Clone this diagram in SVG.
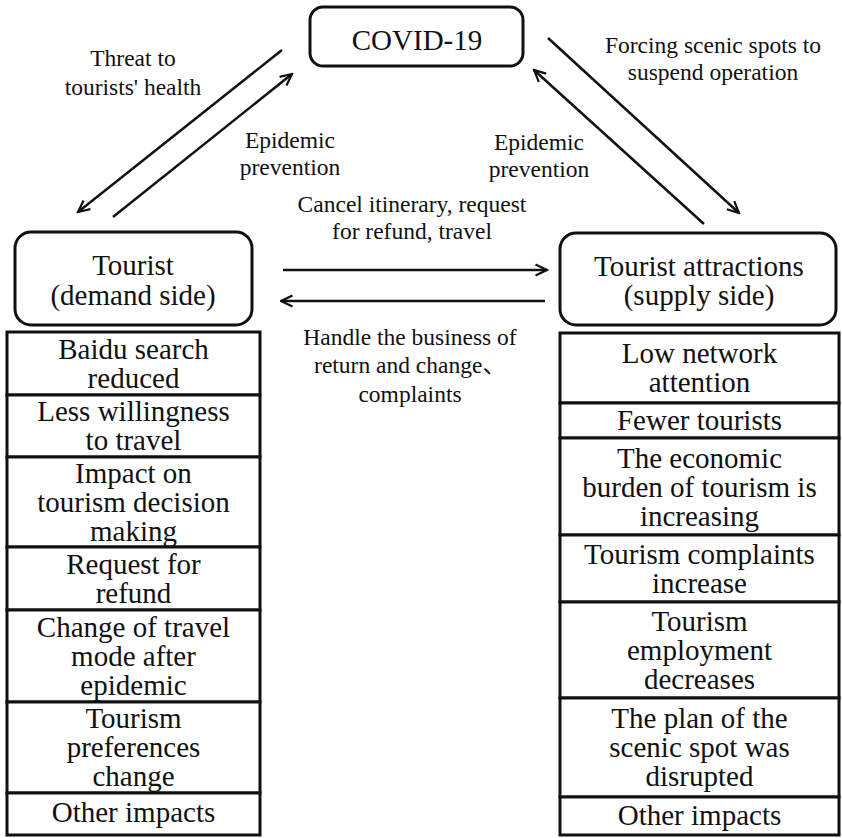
<svg xmlns="http://www.w3.org/2000/svg" width="842" height="838" viewBox="0 0 842 838">
<defs>
<marker id="arr" viewBox="0 0 14 14" refX="12.5" refY="7" markerWidth="14" markerHeight="14" markerUnits="userSpaceOnUse" orient="auto">
<path d="M1,1.5 L12.5,7 L1,12.5" fill="none" stroke="#111" stroke-width="2.2"/>
</marker>
<style>
.n{font-family:'Liberation Serif','Noto Sans CJK SC',serif;font-size:29px;fill:#111;text-anchor:middle}
.l{font-family:'Liberation Serif','Noto Sans CJK SC',serif;font-size:23.5px;fill:#111;text-anchor:middle}
.box{fill:#fff;stroke:#111;stroke-width:3}
.cell{fill:#fff;stroke:#111;stroke-width:3}
.c{fill:none;stroke:#111;stroke-width:2.5;marker-end:url(#arr)}
</style>
</defs>
<rect width="842" height="838" fill="#fff"/>

<g id="connectors">
<line class="c" x1="282" y1="50" x2="78" y2="212"/>
<line class="c" x1="113" y1="217" x2="292" y2="74"/>
<line class="c" x1="548" y1="38" x2="739" y2="213"/>
<line class="c" x1="704" y1="224" x2="534" y2="70"/>
<line class="c" x1="283" y1="270" x2="547" y2="270"/>
<line class="c" x1="545" y1="301" x2="281" y2="301"/>
</g>

<g id="edge-labels">
<text class="l" x="133" y="66">Threat to</text>
<text class="l" x="133" y="95">tourists' health</text>
<text class="l" x="290" y="148">Epidemic</text>
<text class="l" x="290" y="175">prevention</text>
<text class="l" x="539" y="150">Epidemic</text>
<text class="l" x="539" y="177">prevention</text>
<text class="l" x="713" y="53">Forcing scenic spots to</text>
<text class="l" x="713" y="80">suspend operation</text>
<text class="l" x="412" y="212">Cancel itinerary, request</text>
<text class="l" x="412" y="239">for refund, travel</text>
<text class="l" x="410" y="345">Handle the business of</text>
<text class="l" x="410" y="373">return and change、</text>
<text class="l" x="410" y="402">complaints</text>
</g>

<g id="covid">
<rect class="box" x="310" y="7" width="213" height="59" rx="13"/>
<text class="n" x="417" y="50">COVID-19</text>
</g>

<g id="tourist">
<rect class="box" x="15" y="232" width="237" height="93" rx="16"/>
<text class="n" x="133" y="275">Tourist</text>
<text class="n" x="133" y="305">(demand side)</text>
</g>

<g id="attractions">
<rect class="box" x="560" y="233" width="276" height="92" rx="16"/>
<text class="n" x="699" y="276">Tourist attractions</text>
<text class="n" x="699" y="305">(supply side)</text>
</g>

<g id="demand-impacts">
<rect class="cell" x="7" y="332" width="253" height="63"/>
<text class="n" x="133.5" y="359">Baidu search</text>
<text class="n" x="133.5" y="388">reduced</text>
<rect class="cell" x="7" y="395" width="253" height="62"/>
<text class="n" x="133.5" y="421">Less willingness</text>
<text class="n" x="133.5" y="450">to travel</text>
<rect class="cell" x="7" y="457" width="253" height="90"/>
<text class="n" x="133.5" y="483">Impact on</text>
<text class="n" x="133.5" y="512">tourism decision</text>
<text class="n" x="133.5" y="541">making</text>
<rect class="cell" x="7" y="547" width="253" height="63"/>
<text class="n" x="133.5" y="574">Request for</text>
<text class="n" x="133.5" y="603">refund</text>
<rect class="cell" x="7" y="610" width="253" height="92"/>
<text class="n" x="133.5" y="637">Change of travel</text>
<text class="n" x="133.5" y="666">mode after</text>
<text class="n" x="133.5" y="695">epidemic</text>
<rect class="cell" x="7" y="702" width="253" height="91"/>
<text class="n" x="133.5" y="728">Tourism</text>
<text class="n" x="133.5" y="757">preferences</text>
<text class="n" x="133.5" y="786">change</text>
<rect class="cell" x="7" y="793" width="253" height="42"/>
<text class="n" x="133.5" y="822">Other impacts</text>
</g>

<g id="supply-impacts">
<rect class="cell" x="560" y="333" width="279" height="70"/>
<text class="n" x="699.5" y="363">Low network</text>
<text class="n" x="699.5" y="392">attention</text>
<rect class="cell" x="560" y="403" width="279" height="35"/>
<text class="n" x="699.5" y="430">Fewer tourists</text>
<rect class="cell" x="560" y="438" width="279" height="97"/>
<text class="n" x="699.5" y="468">The economic</text>
<text class="n" x="699.5" y="497">burden of tourism is</text>
<text class="n" x="699.5" y="526">increasing</text>
<rect class="cell" x="560" y="535" width="279" height="67"/>
<text class="n" x="699.5" y="564">Tourism complaints</text>
<text class="n" x="699.5" y="593">increase</text>
<rect class="cell" x="560" y="602" width="279" height="96"/>
<text class="n" x="699.5" y="631">Tourism</text>
<text class="n" x="699.5" y="660">employment</text>
<text class="n" x="699.5" y="689">decreases</text>
<rect class="cell" x="560" y="698" width="279" height="99"/>
<text class="n" x="699.5" y="728">The plan of the</text>
<text class="n" x="699.5" y="757">scenic spot was</text>
<text class="n" x="699.5" y="786">disrupted</text>
<rect class="cell" x="560" y="797" width="279" height="38"/>
<text class="n" x="699.5" y="825">Other impacts</text>
</g>
</svg>
